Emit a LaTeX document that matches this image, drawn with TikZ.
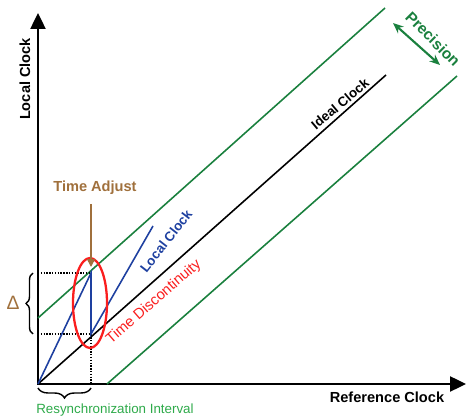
\documentclass[tikz,border=0pt]{standalone}
\usepackage{fontspec}
\setmainfont{Liberation Sans}
\usetikzlibrary{arrows.meta,decorations.pathreplacing,shapes.geometric}
\definecolor{precgreen}{RGB}{26,128,62}
\definecolor{resyncgreen}{RGB}{46,170,74}
\definecolor{localblue}{RGB}{30,64,160}
\definecolor{adjbrown}{RGB}{160,112,60}
\definecolor{discred}{RGB}{250,30,30}
\begin{document}
\begin{tikzpicture}[x=0.02cm,y=0.02cm,every node/.style={font=\fontsize{8.3}{10}\selectfont\bfseries,inner sep=1pt},
  bound/.style={precgreen,line width=0.9pt},guide/.style={dash pattern=on 0.8pt off 0.8pt,line width=0.9pt}]
\useasboundingbox (-38,-35) rectangle (429,384);
\coordinate (O) at (0,0); \coordinate (ytip) at (0,371); \coordinate (xtip) at (428,0);
\coordinate (peak) at (53,111); \coordinate (drop) at (53,50); \coordinate (localend) at (115,158);
\coordinate (idealend) at (348,309);
\coordinate (hiA) at (0,66); \coordinate (hiB) at (347,376); \coordinate (loA) at (69,0); \coordinate (loB) at (419,308);
\coordinate (adjtip) at (53,117); \coordinate (precA) at (355,361); \coordinate (precB) at (402,319);
\draw[line width=1.4pt,line join=miter,{Triangle[width=0.3cm,length=0.32cm]}-{Triangle[width=0.3cm,length=0.32cm]}] (ytip) |- (xtip);
\node[rotate=90] (ylabel) at (-13,305) {Local Clock};
\node (xlabel) at (349,-13) {Reference Clock};
\draw[bound] (hiA) -- (hiB);
\draw[bound] (loA) -- (loB);
\draw[line width=0.9pt] (O) -- (idealend);
\node[rotate=40,font=\fontsize{7.6}{9}\selectfont\bfseries] (idealtxt) at (302,280) {Ideal Clock};
\draw[guide] (O |- peak) -- (peak);
\draw[guide] (O |- drop) -- (drop) -- (drop |- O);
\draw[localblue,line width=0.9pt,line join=miter] (O) -- (peak) -- (drop) -- (localend);
\node[localblue,rotate=52,font=\fontsize{7.6}{9}\selectfont\bfseries] (localtxt) at (128,143) {Local Clock};
\node[draw=discred,line width=1.3pt,ellipse,minimum width=0.68cm,minimum height=1.8cm] (jump) at (52,81) {};
\node[discred,rotate=41,font=\fontsize{8.4}{10}\selectfont] (disctxt) at (116,82) {Time Discontinuity};
\node[adjbrown] (adj) at (57,196) {Time Adjust};
\draw[adjbrown,line width=0.9pt,shorten <=4pt,-{Triangle[width=4.5pt,length=4.5pt]}] (adj.south -| adjtip) -- (adjtip);
\node[precgreen,rotate=-45,font=\fontsize{8.8}{10}\selectfont\bfseries] (prectxt) at (395,345) {Precision};
\draw[precgreen,line width=1.2pt,{Stealth[length=6pt,width=5pt]}-{Stealth[length=6pt,width=5pt]}] (precA) -- (precB);
\draw[decorate,decoration={brace,amplitude=0.14cm},line width=0.8pt] (-5,50) -- (-5,111);
\node[adjbrown,font=\fontsize{11}{12}\selectfont] (delta) at (-25,81) {Δ};
\draw[decorate,decoration={brace,amplitude=0.2cm},line width=0.8pt] (53,-4) -- (0,-4);
\node[resyncgreen,font=\fontsize{7.6}{9}\selectfont] (resync) at (77,-26) {Resynchronization Interval};
\end{tikzpicture}
\end{document}
